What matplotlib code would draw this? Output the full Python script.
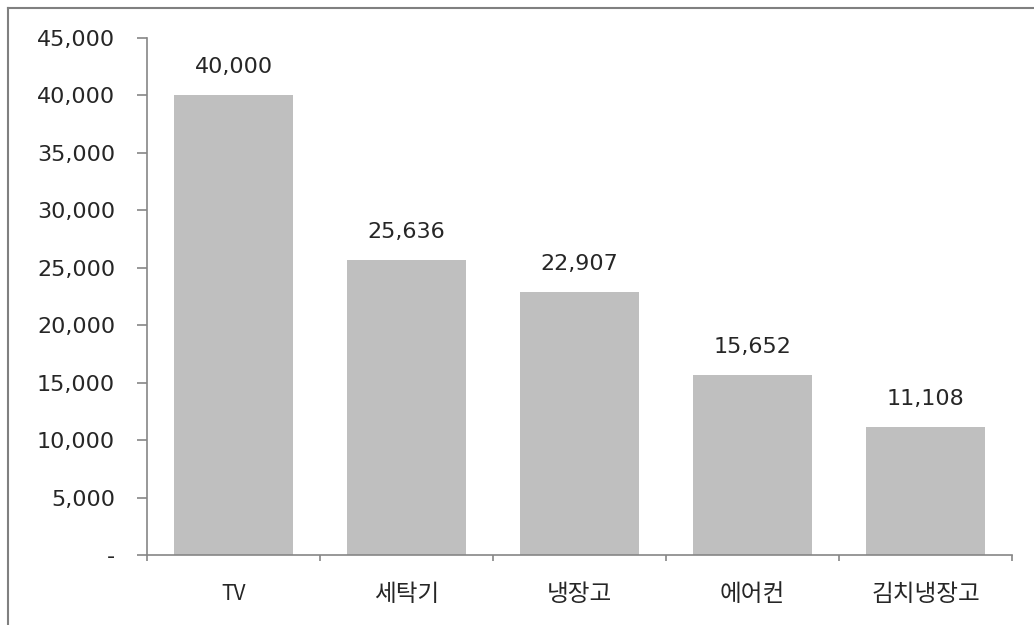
import matplotlib
matplotlib.use("Agg")
import matplotlib.pyplot as plt
from matplotlib.lines import Line2D
from matplotlib.ticker import FixedLocator, FuncFormatter
import numpy as np

categories = ["TV", "세탁기", "냉장고", "에어컨", "김치냉장고"]
values = [40000, 25636, 22907, 15652, 11108]
yticks = [0, 5000, 10000, 15000, 20000, 25000, 30000, 35000, 40000, 45000]

plt.rcParams['font.family'] = ['DejaVu Sans', 'Noto Sans CJK KR']

fig = plt.figure(figsize=(10.34, 6.25), dpi=100)
ax = fig.add_axes([0.1422, 0.112, 0.9787 - 0.1422, 0.9392 - 0.112])

x = np.arange(len(categories))
ax.bar(x, values, width=0.69, color='#BFBFBF', zorder=2)

for xi, v in zip(x, values):
    ax.annotate(f"{v:,}", (xi, v), xytext=(0, 13), textcoords='offset points',
                ha='center', va='bottom', fontsize=16, color='#262626')

ax.set_xlim(-0.5, len(categories) - 0.5)
ax.set_ylim(0, 45000)
ax.set_yticks(yticks)
ax.yaxis.set_major_formatter(FuncFormatter(lambda v, p: '-' if v == 0 else f"{int(v):,}"))
ax.set_xticks(x)
labels = ax.set_xticklabels(categories, family=['Noto Sans CJK KR', 'DejaVu Sans'])
ax.xaxis.set_minor_locator(FixedLocator(np.arange(-0.5, len(categories), 1.0)))

for s in ['top', 'right']:
    ax.spines[s].set_visible(False)
for s in ['left', 'bottom']:
    ax.spines[s].set_color('#868686')
    ax.spines[s].set_linewidth(1.2)

ax.tick_params(axis='y', direction='out', length=7, width=1.2, color='#868686',
               labelsize=16, labelcolor='#262626', pad=16)
ax.tick_params(axis='x', which='major', length=0, labelsize=17,
               labelcolor='#262626', pad=20)
ax.tick_params(axis='x', which='minor', direction='out', length=4, width=1.2,
               color='#868686')
labels[0].set_fontsize(15)

# figure frame (top and left edges visible)
fig.add_artist(Line2D([0.008, 1.0], [1 - 7.5 / 625, 1 - 7.5 / 625],
                      transform=fig.transFigure, color='#808080', lw=1.5))
fig.add_artist(Line2D([8 / 1034, 8 / 1034], [0.0, 1 - 7.5 / 625],
                      transform=fig.transFigure, color='#808080', lw=1.5))

fig.savefig("out.png", dpi=100)
